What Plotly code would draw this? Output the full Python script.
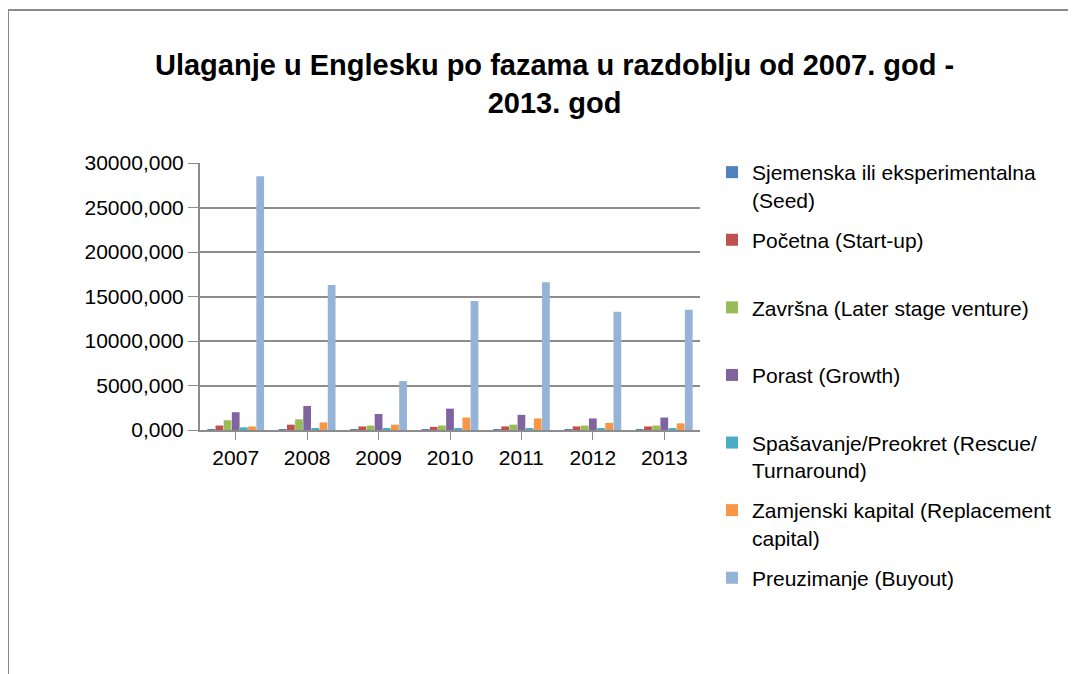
import plotly.graph_objects as go

years = ["2007", "2008", "2009", "2010", "2011", "2012", "2013"]

series_names = [
    "Sjemenska ili eksperimentalna<br>(Seed)",
    "Početna (Start-up)<br>&nbsp;",
    "Završna (Later stage venture)<br>&nbsp;",
    "Porast (Growth)<br>&nbsp;",
    "Spašavanje/Preokret (Rescue/<br>Turnaround)",
    "Zamjenski kapital (Replacement<br>capital)",
    "Preuzimanje (Buyout)<br>&nbsp;",
]

seed = [60, 50, 40, 40, 50, 40, 40]
start_up = [500, 600, 400, 350, 400, 400, 400]
later_stage = [1100, 1200, 500, 500, 600, 500, 500]
growth = [2000, 2700, 1800, 2400, 1700, 1300, 1400]
rescue = [300, 150, 150, 150, 150, 150, 150]
replacement = [400, 850, 600, 1400, 1300, 800, 750]
buyout = [28500, 16300, 5500, 14500, 16600, 13300, 13500]

series_values = [seed, start_up, later_stage, growth, rescue, replacement, buyout]
colors = ["#4F81BD", "#C0504D", "#9BBB59", "#8064A2", "#4BACC6", "#F79646", "#95B3D7"]

tick_vals = [0, 5000, 10000, 15000, 20000, 25000, 30000]
tick_text = ["0,000", "5000,000", "10000,000", "15000,000", "20000,000", "25000,000", "30000,000"]

title_text = "Ulaganje u Englesku po fazama u razdoblju od 2007. god -<br>2013. god"

fig = go.Figure()
for i, (name, vals, col) in enumerate(zip(series_names, series_values, colors)):
    fig.add_trace(go.Bar(
        x=years, y=vals, name=name, legendgroup=str(i),
        marker=dict(color=col, line=dict(width=0)),
    ))

# page offset of the plot div (body margin)
OFF = 8
W, H = 1076, 674
# target plot area in screenshot pixels: x 200..700, y 163..430
L, R, T, B = 200 - OFF, 700 - OFF, 163 - OFF, 430 - OFF
pw, ph = R - L, B - T

def px_x(x):
    return (x - OFF - L) / pw

def px_y(y):
    return (B - (y - OFF)) / ph

fig.update_layout(
    width=W, height=H,
    margin=dict(l=L, r=W - R, t=T, b=H - B, autoexpand=False),
    paper_bgcolor="white", plot_bgcolor="white",
    barmode="group", bargap=0.2, bargroupgap=0.05,
    font=dict(family="Liberation Sans, Arial, sans-serif", size=20, color="#000000"),
    title=dict(
        text=title_text, x=0.508, xanchor="center", y=1 - (83 - 2 * OFF) / H, yanchor="middle",
        font=dict(family="Liberation Sans, sans-serif", size=29, color="#000000", weight="bold"),
    ),
    showlegend=True,
    legend=dict(
        x=px_x(712), y=px_y(152), xanchor="left", yanchor="top",
        valign="top", traceorder="grouped", tracegroupgap=10, maxheight=640,
        font=dict(size=21, color="#000000"), itemwidth=30,
        bgcolor="rgba(0,0,0,0)",
    ),
    xaxis=dict(
        showgrid=False, showline=True, linecolor="#8c8c8c", linewidth=2,
        ticks="outside", ticklen=8, tickcolor="#8c8c8c",
        tickfont=dict(size=21), fixedrange=True,
    ),
    yaxis=dict(
        range=[0, 30000], tickvals=tick_vals, ticktext=tick_text,
        showgrid=True, gridcolor="#8c8c8c", gridwidth=2,
        showline=True, linecolor="#8c8c8c", linewidth=2,
        ticks="outside", ticklen=10, tickcolor="#8c8c8c",
        tickfont=dict(size=21), zeroline=False, fixedrange=True,
    ),
    shapes=[
        dict(type="line", xref="paper", yref="paper",
             x0=px_x(7), x1=px_x(1080), y0=px_y(10), y1=px_y(10),
             line=dict(color="#8a8a8a", width=2)),
        dict(type="line", xref="paper", yref="paper",
             x0=px_x(8), x1=px_x(8), y0=px_y(10), y1=px_y(680),
             line=dict(color="#8a8a8a", width=2)),
    ],
)

fig.write_html("out.html")
